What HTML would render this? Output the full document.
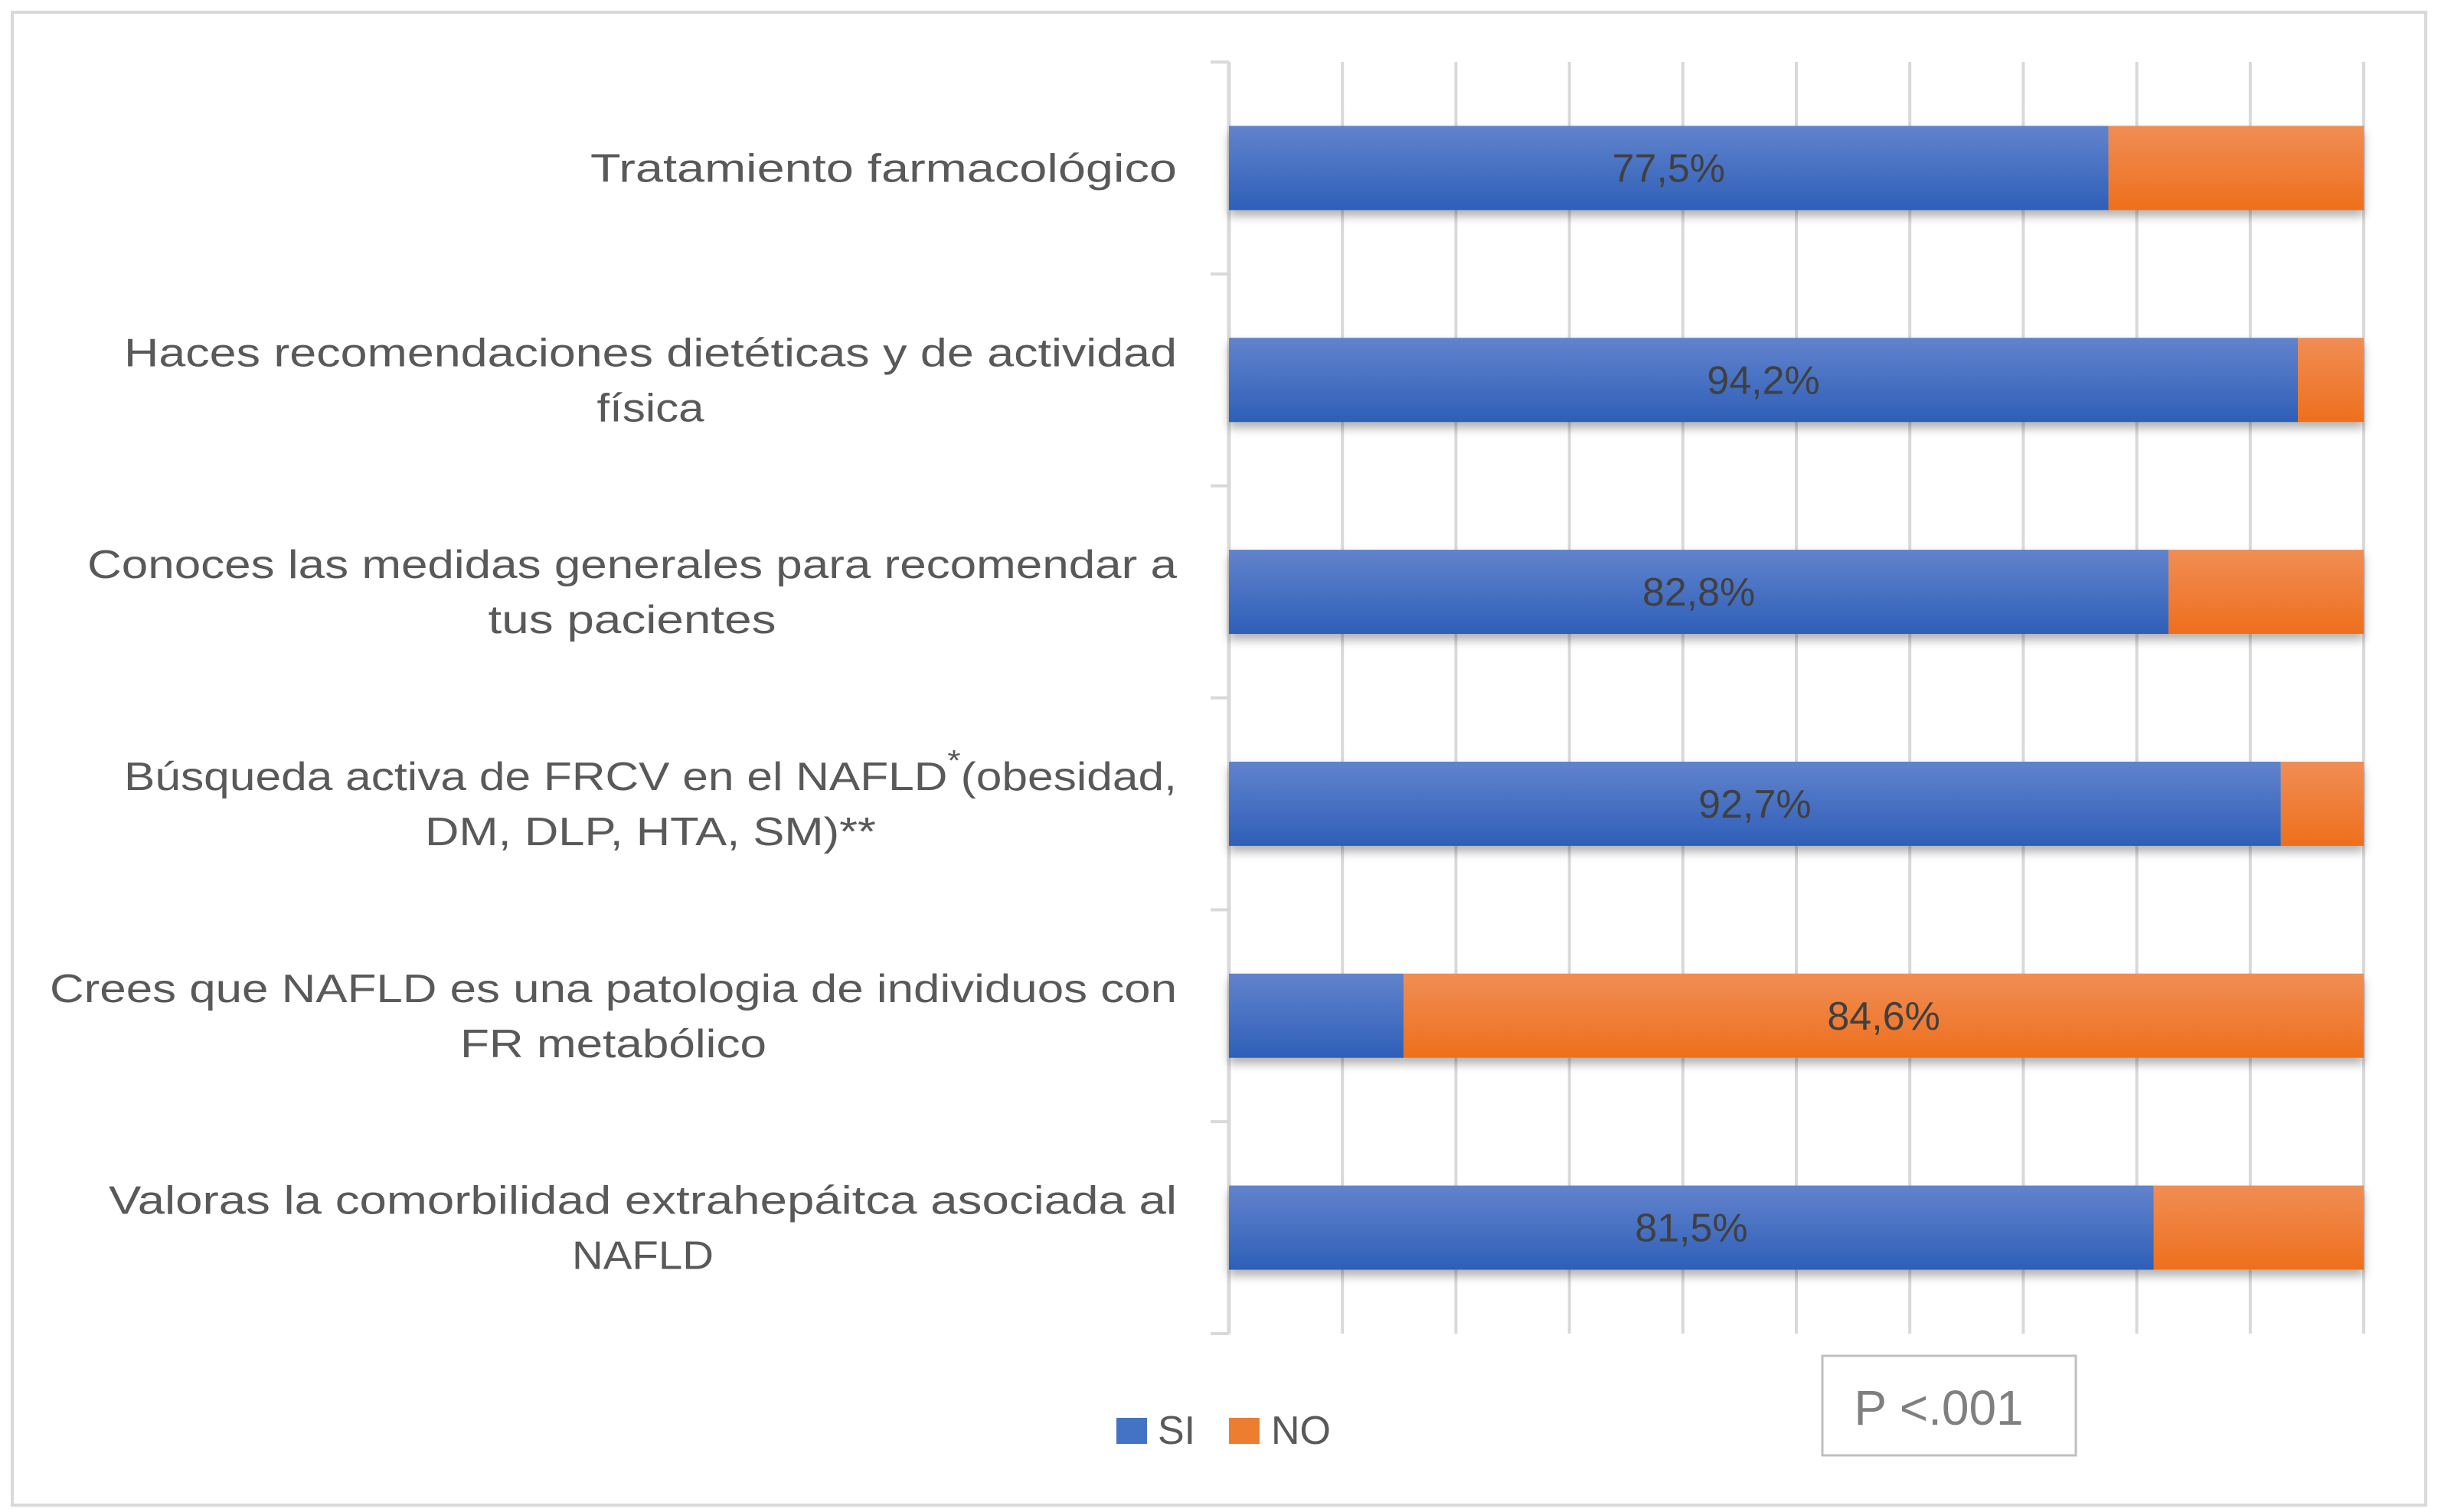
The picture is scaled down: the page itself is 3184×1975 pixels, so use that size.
<!DOCTYPE html>
<html><head><meta charset="utf-8"><style>
html,body{margin:0;padding:0;background:#fff}
svg{display:block}
text{font-family:"Liberation Sans",sans-serif}
</style></head><body>
<svg id="chart" width="3184" height="1975" viewBox="0 0 3184 1975" xmlns="http://www.w3.org/2000/svg">
<defs>
<linearGradient id="gBlue" x1="0" y1="0" x2="0" y2="1"><stop offset="0" stop-color="#6283cd"/><stop offset="1" stop-color="#2e5fb8"/></linearGradient>
<linearGradient id="gOrange" x1="0" y1="0" x2="0" y2="1"><stop offset="0" stop-color="#f08d55"/><stop offset="1" stop-color="#ee6f1c"/></linearGradient>
<filter id="sh" x="-5%" y="-20%" width="110%" height="160%"><feDropShadow dx="0" dy="8" stdDeviation="6" flood-color="#000" flood-opacity="0.3"/></filter>
</defs>
<rect x="16" y="16" width="3152" height="1950" fill="#fff" stroke="#d9d9d9" stroke-width="4"/>
<g id="grid"></g><g id="bars"></g><g id="labels"></g>
<g>
<rect x="1458" y="1852" width="40" height="34" fill="#4472c4"/>
<text x="1512" y="1886" font-size="52" fill="#595959">SI</text>
<rect x="1605" y="1852" width="40" height="34" fill="#ed7d31"/>
<text x="1660" y="1886" font-size="52" fill="#595959">NO</text>
</g>
<g>
<rect x="2380" y="1771" width="331" height="130" fill="#fff" stroke="#bfbfbf" stroke-width="3"/>
<text x="2532" y="1861" font-size="64" fill="#7f7f7f" text-anchor="middle">P &lt;.001</text>
</g>
</svg>
<script>
const categories = [
 ["Tratamiento farmacológico"],
 ["Haces recomendaciones dietéticas y de actividad","física"],
 ["Conoces las medidas generales para recomendar a","tus pacientes"],
 ["Búsqueda activa de FRCV en el NAFLD*(obesidad,","DM, DLP, HTA, SM)**"],
 ["Crees que NAFLD es una patologia de individuos con","FR metabólico"],
 ["Valoras la comorbilidad extrahepáitca asociada al","NAFLD"]
];
const siValues = [77.5, 94.2, 82.8, 92.7, 15.4, 81.5];
const noValues = [22.5, 5.8, 17.2, 7.3, 84.6, 18.5];
const valueLabels = ["77,5%","94,2%","82,8%","92,7%","84,6%","81,5%"];
const labelOnNo = [false,false,false,false,true,false];
const lineWidths = [[766],[1375,140],[1423,376],[1375,589],[1472,400],[1395,185]];

const NS="http://www.w3.org/2000/svg";
const X0=1605, X1=3087, Y0=81, Y1=1742;
const band=(Y1-Y0)/categories.length, barH=110;
const xs=v=>X0+(X1-X0)*v/100;
const yc=i=>Y0+band*(i+0.5);
function mk(t,a,p){const e=document.createElementNS(NS,t);for(const k in a)e.setAttribute(k,a[k]);p.appendChild(e);return e;}
const grid=document.getElementById('grid'), bars=document.getElementById('bars'), labels=document.getElementById('labels');
for(let k=0;k<=10;k++){
  const x=xs(k*10);
  const l=mk('line',{x1:x,x2:x,y1:Y0,y2:Y1,stroke:'#d9d9d9','stroke-width':k==0?5:4},grid);
  
  
}
for(let i=0;i<=categories.length;i++){
  const y=Y0+band*i;
  const t=mk('line',{x1:X0-24,x2:X0,y1:y,y2:y,stroke:'#d9d9d9','stroke-width':4},grid);
  
  
}
categories.forEach((lines,i)=>{
  const cy=yc(i), top=cy-barH/2;
  const g=mk('g',{filter:'url(#sh)'},bars);
  const s=siValues[i], n=noValues[i];
  const b1=mk('rect',{x:xs(0),y:top,width:xs(s)-xs(0),height:barH,fill:'url(#gBlue)'},g);
  
  
  const b2=mk('rect',{x:xs(s),y:top,width:xs(s+n)-xs(s),height:barH,fill:'url(#gOrange)'},g);
  
  
  const vx=labelOnNo[i]?(xs(s)+xs(s+n))/2:(xs(0)+xs(s))/2;
  const vt=mk('text',{x:vx,y:cy+18,'font-size':52,fill:'#404040','text-anchor':'middle'},labels);
  vt.textContent=valueLabels[i];
  
  
  const maxW=Math.max(...lineWidths[i]);
  const cx=1537-maxW/2;
  lines.forEach((ln,j)=>{
    const ly=lines.length==1?cy+18:cy+18+(j==0?-36:36);
    const t=mk('text',{x:cx,y:ly,'font-size':52,fill:'#595959','text-anchor':'middle',textLength:lineWidths[i][j],lengthAdjust:'spacingAndGlyphs'},labels);
    if(ln.includes('*(')){
      const [a,b]=ln.split('*(');
      t.appendChild(document.createTextNode(a));
      const sp=mk('tspan',{dy:-26,'font-size':38},t);sp.textContent='*';
      const sp2=mk('tspan',{dy:26},t);sp2.textContent='(' + b;
    } else t.textContent=ln;
    
    
  });
});
</script>
</body></html>
